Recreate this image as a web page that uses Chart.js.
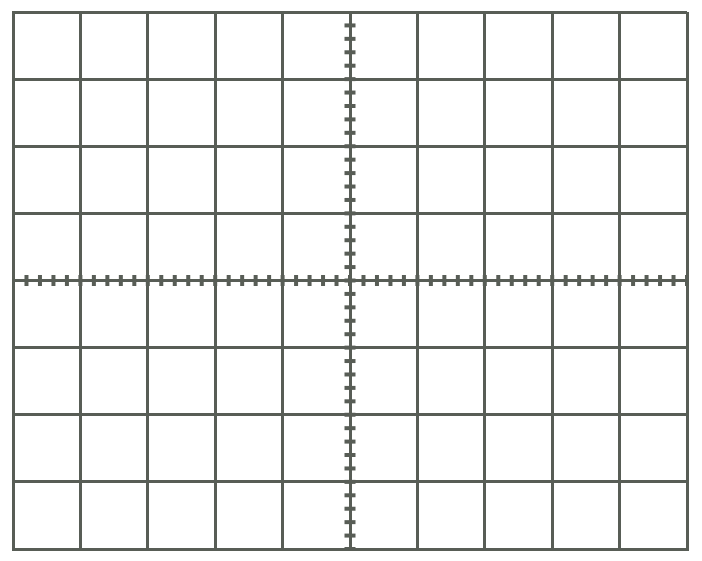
<!DOCTYPE html>
<html>
<head>
<meta charset="utf-8">
<style>
html,body{margin:0;padding:0;background:#fff;}
#wrap{width:702px;height:561px;}
</style>
<script src="https://cdn.jsdelivr.net/npm/chart.js@4"></script>
</head>
<body>
<div id="wrap"><canvas id="c" width="702" height="561"></canvas></div>
<script>
// Graticule: 10 horizontal divisions, 8 vertical divisions, 5 minor ticks per division on center axes
const xDivisions = [-5, 5];
const yDivisions = [-4, 4];
const minorTicksX = [-5,-4.8,-4.6,-4.4,-4.2,-4,-3.8,-3.6,-3.4,-3.2,-3,-2.8,-2.6,-2.4,-2.2,-2,-1.8,-1.6,-1.4,-1.2,-1,-0.8,-0.6,-0.4,-0.2,0,0.2,0.4,0.6,0.8,1,1.2,1.4,1.6,1.8,2,2.2,2.4,2.6,2.8,3,3.2,3.4,3.6,3.8,4,4.2,4.4,4.6,4.8,5];
const minorTicksY = [-4,-3.8,-3.6,-3.4,-3.2,-3,-2.8,-2.6,-2.4,-2.2,-2,-1.8,-1.6,-1.4,-1.2,-1,-0.8,-0.6,-0.4,-0.2,0,0.2,0.4,0.6,0.8,1,1.2,1.4,1.6,1.8,2,2.2,2.4,2.6,2.8,3,3.2,3.4,3.6,3.8,4];

const lineColor = '#585d56';

new Chart(document.getElementById('c'), {
  type: 'scatter',
  data: {
    datasets: [
      {
        data: minorTicksX.map(v => ({x: v, y: 0})),
        pointStyle: 'line', pointRotation: 90, pointRadius: 5.5, pointHoverRadius: 5.5,
        pointBorderColor: lineColor, pointBorderWidth: 4, pointBackgroundColor: lineColor
      },
      {
        data: minorTicksY.map(v => ({x: 0, y: v})),
        pointStyle: 'line', pointRotation: 0, pointRadius: 5.5, pointHoverRadius: 5.5,
        pointBorderColor: lineColor, pointBorderWidth: 4, pointBackgroundColor: lineColor
      }
    ]
  },
  options: {
    responsive: false,
    animation: false,
    events: [],
    layout: {padding: {left: 13, right: 15, top: 12, bottom: 12}},
    plugins: {legend: {display: false}, tooltip: {enabled: false}},
    scales: {
      x: {
        type: 'linear', min: xDivisions[0], max: xDivisions[1],
        ticks: {display: false, stepSize: 1},
        grid: {color: lineColor, lineWidth: 3, drawTicks: false},
        border: {display: true, color: lineColor, width: 3}
      },
      y: {
        type: 'linear', min: yDivisions[0], max: yDivisions[1],
        ticks: {display: false, stepSize: 1},
        grid: {color: lineColor, lineWidth: 3, drawTicks: false},
        border: {display: true, color: lineColor, width: 3}
      }
    }
  }
});
</script>
</body>
</html>
